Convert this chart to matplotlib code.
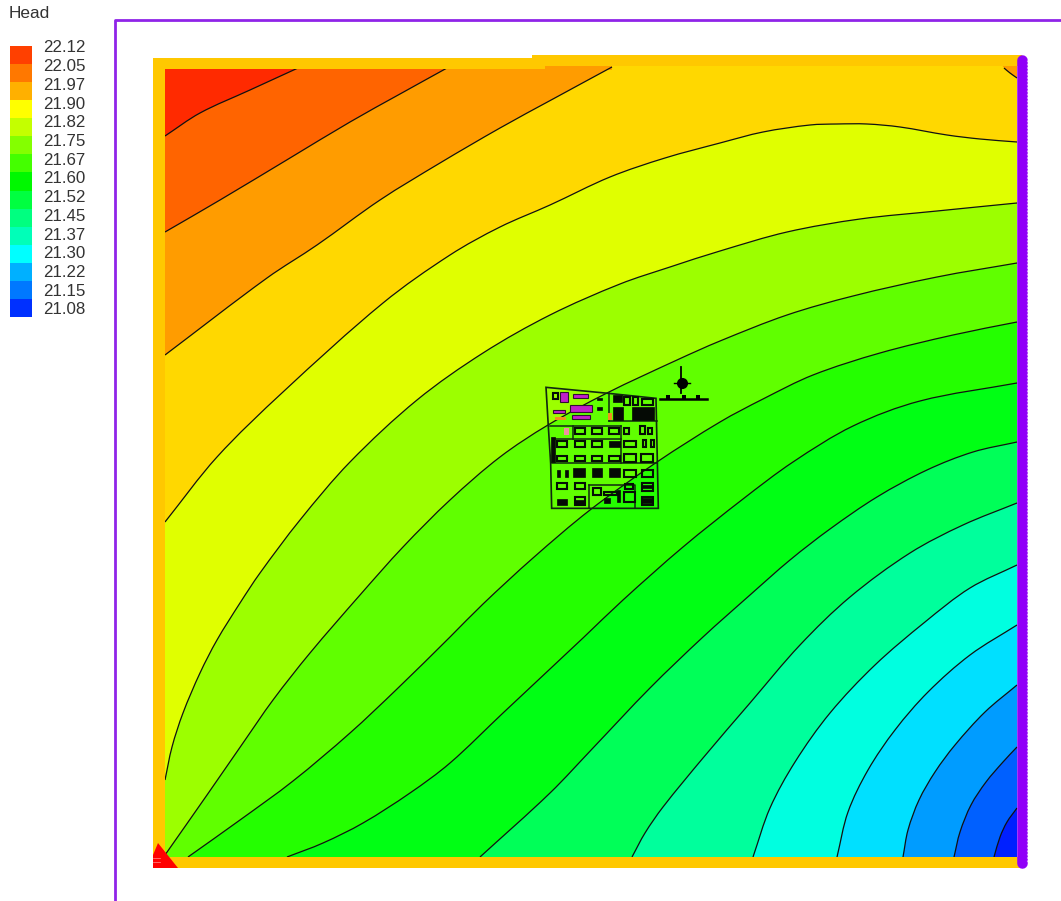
import numpy as np
import matplotlib
matplotlib.use("Agg")
import matplotlib.pyplot as plt
from matplotlib.path import Path
from matplotlib.patches import PathPatch, Rectangle, Polygon

plt.rcParams['font.family'] = ['Liberation Sans', 'DejaVu Sans']

legend_title = "Head"
legend_labels = ["22.12", "22.05", "21.97", "21.90", "21.82", "21.75", "21.67", "21.60",
                 "21.52", "21.45", "21.37", "21.30", "21.22", "21.15", "21.08"]
legend_colors = ["#FF4000", "#FF7800", "#FFB000", "#FFFF00", "#C4FF00", "#84FF00", "#44FF00", "#00F800",
                 "#00FF40", "#00FF80", "#00FFB8", "#00FFFF", "#00B0FF", "#0078FF", "#0030FF"]

# colour of each band between contours, highest head first
band_colors = ["#FF2A00", "#FF6400", "#FF9C00", "#FFD800", "#E0FF00", "#9CFF00", "#60FF00", "#24FF00",
               "#00FF14", "#00FF58", "#00FF9C", "#00FFE0", "#00E0FF", "#009CFF", "#0060FF", "#0020FF"]

# contour lines (pixel x, pixel y)
contours = [
    [(165,136),(200,113),(250,90),(298,68)],
    [(165,232),(220,200),(290,158),(350,122),(400,94),(447,68)],
    [(165,355),(267,278),(317,245),(380,200),(440,163),(500,128),(553,99),(612,67)],
    [(165,522),(217,457),(283,392),(383,303),(450,255),(500,227),(550,205),(610,177),(665,158),
     (720,143),(763,132),(810,125),(837,124),(867,124),(900,127),(947,135),(980,139),(1017,142)],
    [(165,780),(172,747),(183,713),(200,673),(217,640),(240,603),(260,573),(300,520),(350,462),(417,400),
     (483,353),(550,315),(620,284),(670,267),(720,251),(787,232),(860,219),(937,211),(1017,203)],
    [(165,855),(207,795),(243,743),(273,700),(310,653),(360,595),(403,547),(450,500),(500,457),(548,425),
     (607,393),(677,360),(720,341),(787,315),(853,296),(937,277),(1017,263)],
    [(188,857),(240,820),(293,781),(350,733),(397,689),(450,637),(483,604),(533,558),(590,510),(657,462),
     (720,422),(763,399),(813,375),(880,353),(953,335),(1017,322)],
    [(287,857),(323,843),(363,823),(410,793),(450,763),(503,713),(583,638),(623,600),(683,547),(743,499),
     (793,462),(853,426),(920,401),(1017,383)],
    [(480,857),(550,793),(593,748),(650,688),(703,637),(750,595),(790,560),(830,529),(877,497),(927,470),
     (973,452),(1017,442)],
    [(632,857),(645,833),(663,807),(703,758),(750,703),(800,645),(850,597),(910,553),(963,525),(1017,503)],
    [(753,857),(770,808),(795,762),(830,713),(875,665),(925,622),(970,588),(1017,565)],
    [(837,857),(848,812),(868,770),(895,730),(928,692),(970,655),(1017,625)],
    [(903,857),(908,830),(919,800),(935,772),(955,745),(985,712),(1017,685)],
    [(954,857),(960,832),(971,805),(986,782),(1003,762),(1017,747)],
    [(994,857),(1000,837),(1007,822),(1017,808)],
]
corner_contour = [(1004,68),(1010,73),(1017,78)]

# site plan on the model, in pixels of a 3x view anchored at site_origin
site_origin = (530, 360)
site_outline = [(48,82),(235,100),(378,115),(385,445),(65,445),(62,310),(55,200)]
site_inner_lines = [[(75,238),(272,238)], [(65,308),(382,308)], [(130,197),(130,238)], [(272,197),(272,308)],
                    [(60,197),(272,197)], [(238,100),(238,182)], [(238,182),(380,182)],
                    [(178,375),(315,375),(315,445)], [(178,375),(178,445)]]
site_open = [(135,205,165,222),(185,205,215,222),(237,205,268,222),(282,205,298,222),(330,197,345,222),
             (355,205,367,222),(80,243,110,262),(135,243,165,262),(185,243,215,262),(282,243,317,262),
             (338,240,348,262),(362,240,372,262),(80,287,110,303),(135,287,165,303),(185,287,215,303),
             (237,287,270,303),(282,282,317,305),(333,282,368,305),(282,330,317,350),(335,330,368,350),
             (80,370,110,388),(135,370,165,388),(335,370,370,392),(335,410,370,435),(135,412,165,435),
             (285,372,310,388),(282,395,315,425),(190,385,212,405),(222,395,260,405),(282,110,300,135),
             (308,110,325,135),(335,118,370,135),(70,100,85,118)]
site_solid = [(62,230,75,305),(305,140,372,180),(250,105,275,125),(250,140,280,180),(130,325,165,350),
              (185,325,215,350),(237,325,270,350),(237,243,270,262),(80,330,90,350),(105,330,115,350),
              (80,418,110,435),(135,420,165,435),(335,375,370,385),(335,415,370,430),(200,115,215,120),
              (200,140,215,150),(260,390,270,425),(222,415,240,428)]
site_magenta = [(90,95,115,125),(130,103,175,115),(120,135,185,155),(70,150,105,160),(125,165,180,178)]
site_orange = [(75,170,108,180),(235,160,245,180)]
site_pink = [(103,205,118,225)]
compass_centre = (682, 383)
scale_bar = [(660,399),(707,399)]
scale_bumps = [(668,397),(684,397),(698,397)]


def curve_codes(points):
    """Smooth cubic pieces through the read points, tangents scaled by chord length."""
    p = np.asarray(points, float)
    n = len(p)
    tang = np.zeros_like(p)
    for i in range(n):
        a, b = p[max(i - 1, 0)], p[min(i + 1, n - 1)]
        d = b - a
        tang[i] = d / np.hypot(*d)
    verts = [tuple(p[0])]
    for i in range(n - 1):
        h = np.hypot(*(p[i + 1] - p[i])) / 3
        verts.append(tuple(p[i] + tang[i] * h))
        verts.append(tuple(p[i + 1] - tang[i + 1] * h))
        verts.append(tuple(p[i + 1]))
    codes = [Path.MOVETO] + [Path.CURVE4] * (len(verts) - 1)
    return verts, codes


fig = plt.figure(figsize=(10.61, 9.01), dpi=100)
ax = fig.add_axes([0, 0, 1, 1])
ax.set_xlim(0, 1061)
ax.set_ylim(901, 0)
ax.axis('off')

L, R, T, B = 165, 1017, 68, 857
ax.add_patch(Rectangle((L, T), R - L, B - T, fc=band_colors[0], ec='none', zorder=1))
for line, col in zip(contours, band_colors[1:]):
    v, c = curve_codes(line)
    closing = []
    if line[-1][1] <= 70:
        closing.append((R, T))
    closing.append((R, B))
    if line[0][0] <= L:
        closing.append((L, B))
    for pt in closing:
        v.append(pt)
        c.append(Path.LINETO)
    v.append(v[0])
    c.append(Path.CLOSEPOLY)
    ax.add_patch(PathPatch(Path(v, c), fc=col, ec='none', zorder=2))

# the top strip is a little thinner right of the step in the boundary
ax.add_patch(Rectangle((545, 65), 67, 5, fc=band_colors[2], ec='none', zorder=3))
ax.add_patch(Rectangle((612, 65), 405, 5, fc=band_colors[3], ec='none', zorder=3))
ax.add_patch(Polygon(corner_contour + [(R, 65), (1002, 65)], fc="#FF9C00", ec='none', zorder=3))

for line in contours + [corner_contour]:
    v, c = curve_codes(line)
    ax.add_patch(PathPatch(Path(v, c), fc='none', ec='#111111', lw=0.9, zorder=4))

# specified-head boundary strips
band = "#FFC800"
ax.add_patch(Rectangle((153, 58), 12, 810, fc=band, ec='none', zorder=5))
ax.add_patch(Rectangle((153, 58), 392, 11, fc=band, ec='none', zorder=5))
ax.add_patch(Rectangle((532, 55), 490, 11, fc=band, ec='none', zorder=5))
ax.add_patch(Rectangle((153, 857), 869, 11, fc=band, ec='none', zorder=5))

# right boundary
purple = "#9000F8"
ax.plot([1021.5, 1021.5], [60, 863], color=purple, lw=7.6, solid_capstyle='round', zorder=6)
ax.plot([1026.8, 1026.8], [60, 863], color='white', lw=0.8, dashes=(1.5, 1.5), alpha=0.6, zorder=7)

# red wells in the corner
ax.add_patch(Polygon([(158, 843), (178, 868), (153, 868), (153, 855)], fc="#FF0000", ec='none', zorder=6))
ax.plot([153, 160], [858, 858], color='#FF9090', lw=0.5, zorder=7)
ax.plot([153, 160], [862, 862], color='#FF9090', lw=0.5, zorder=7)

# outer purple frame
ax.plot([115, 115, 1061], [901, 20, 20], color="#8F24E8", lw=2.0, zorder=1, solid_joinstyle='round')


def sx(x):
    return site_origin[0] + x / 3


def sy(y):
    return site_origin[1] + y / 3


def site_rects(rects, fc, ec, lw, z):
    for x0, y0, x1, y1 in rects:
        ax.add_patch(Rectangle((sx(x0), sy(y0)), (x1 - x0) / 3, (y1 - y0) / 3, fc=fc, ec=ec, lw=lw, zorder=z))


ax.add_patch(Polygon([(sx(x), sy(y)) for x, y in site_outline], closed=True, fc='none', ec='#102810', lw=1.2, zorder=8))
for seg in site_inner_lines:
    ax.plot([sx(p[0]) for p in seg], [sy(p[1]) for p in seg], color='#102810', lw=1.1, zorder=8)
site_rects(site_open, 'none', '#050F05', 1.5, 9)
site_rects(site_solid, '#050A05', '#050A05', 0.5, 9)
site_rects(site_magenta, '#C020C8', '#301030', 0.8, 9)
site_rects(site_orange, '#F09020', 'none', 0, 9)
site_rects(site_pink, '#F090A0', 'none', 0, 9)

ax.plot(*compass_centre, 'o', color='black', ms=8, mew=0, zorder=9)
ax.plot([compass_centre[0] - 1, compass_centre[0] - 1], [367, 393], color='black', lw=1.3, zorder=9)
ax.plot([674, 690], [383, 383], color='black', lw=1.0, zorder=9)
ax.plot([p[0] for p in scale_bar], [p[1] for p in scale_bar], color='black', lw=1.8, zorder=9)
ax.plot([p[0] for p in scale_bumps], [p[1] for p in scale_bumps], 's', color='black', ms=3.4, mew=0, zorder=9)

# legend
ax.text(9, 13, legend_title, fontsize=12.4, color='#333333', ha='left', va='center')
sw_top, sw_h = 46, 18.07
for i, (lab, col) in enumerate(zip(legend_labels, legend_colors)):
    ax.add_patch(Rectangle((10, sw_top + i * sw_h), 22, sw_h, fc=col, ec='none', zorder=3))
    ax.text(43, 48 + i * 18.71, lab, fontsize=12.2, color='#333333', ha='left', va='center')

fig.savefig("out.png", dpi=100)
